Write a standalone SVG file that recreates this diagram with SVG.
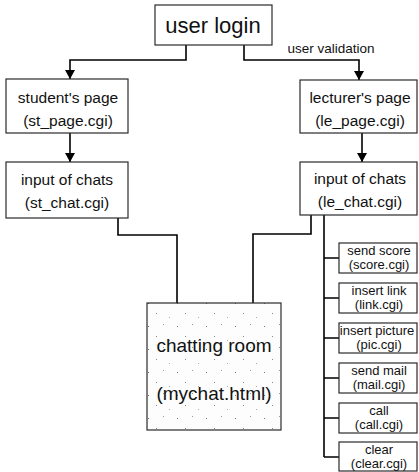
<svg xmlns="http://www.w3.org/2000/svg" width="419" height="472" viewBox="0 0 419 472">
<style>
.box{fill:#fff;stroke:#2a2a2a;stroke-width:1.2}
.t{font-family:"Liberation Sans",Arial,sans-serif;fill:#111;text-anchor:middle}
.m{font-size:15.5px}
.s{font-size:13px}
.c{fill:none;stroke:#000;stroke-width:1.6}
</style>
<defs>
<marker id="ah" markerWidth="10" markerHeight="10" refX="9" refY="5" orient="auto" markerUnits="userSpaceOnUse">
<path d="M0,0 L9,5 L0,10 Z" fill="#000"/>
</marker>
<pattern id="speck" width="29" height="23" patternUnits="userSpaceOnUse">
<rect width="29" height="23" fill="#fdfdfd"/>
<rect x="3" y="4" width="1" height="1" fill="#777"/>
<rect x="18" y="2" width="1" height="1" fill="#999"/>
<rect x="11" y="14" width="1" height="1" fill="#888"/>
<rect x="24" y="18" width="1" height="1" fill="#aaa"/>
</pattern>
</defs>
<g id="connectors">
<path class="c" d="M186,45 V60 H70 V79" marker-end="url(#ah)"/>
<path class="c" d="M244,45 V60 H359 V80" marker-end="url(#ah)"/>
<path class="c" d="M70,133 V162" marker-end="url(#ah)"/>
<path class="c" d="M362,133 V162" marker-end="url(#ah)"/>
<path class="c" d="M118,218 V235 H177 V303"/>
<path class="c" d="M311,215 V234 H253 V303"/>
<path class="c" d="M324,215 V457"/>
<path class="c" d="M324,258 H339 M324,298 H339 M324,338 H339 M324,378 H339 M324,418 H339 M324,457 H339"/>
</g>
<g id="user-login">
<rect class="box" x="155" y="5" width="117" height="40"/>
<text class="t" x="213" y="33" font-size="22">user login</text>
</g>
<text class="t" x="331" y="53" font-size="13.5">user validation</text>
<g id="student-page">
<rect class="box" x="6" y="79" width="122" height="54"/>
<text class="t m" x="68" y="103">student's page</text>
<text class="t m" x="68" y="126">(st_page.cgi)</text>
</g>
<g id="st-chat">
<rect class="box" x="6" y="162" width="122" height="56"/>
<text class="t m" x="67" y="185">input of chats</text>
<text class="t m" x="67" y="208">(st_chat.cgi)</text>
</g>
<g id="lecturer-page">
<rect class="box" x="300" y="80" width="117" height="53"/>
<text class="t m" x="360" y="103">lecturer's page</text>
<text class="t m" x="360" y="126">(le_page.cgi)</text>
</g>
<g id="le-chat">
<rect class="box" x="300" y="162" width="117" height="53"/>
<text class="t m" x="360" y="184">input of chats</text>
<text class="t m" x="360" y="207">(le_chat.cgi)</text>
</g>
<g id="chatting-room">
<rect x="147" y="303" width="134" height="127" fill="url(#speck)" stroke="#2a2a2a" stroke-width="1.2"/>
<text class="t" x="214" y="352" font-size="19">chatting room</text>
<text class="t" x="214" y="400" font-size="19">(mychat.html)</text>
</g>
<g id="score">
<rect class="box" x="339" y="243" width="78" height="30"/>
<text class="t s" x="379" y="255">send score</text>
<text class="t s" x="379" y="269">(score.cgi)</text>
</g>
<g id="link">
<rect class="box" x="339" y="283" width="78" height="30"/>
<text class="t s" x="379" y="295">insert link</text>
<text class="t s" x="379" y="309">(link.cgi)</text>
</g>
<g id="pic">
<rect class="box" x="339" y="323" width="78" height="30"/>
<text class="t s" x="377" y="335">insert picture</text>
<text class="t s" x="379" y="349">(pic.cgi)</text>
</g>
<g id="mail">
<rect class="box" x="339" y="363" width="78" height="30"/>
<text class="t s" x="379" y="375">send mail</text>
<text class="t s" x="379" y="389">(mail.cgi)</text>
</g>
<g id="call">
<rect class="box" x="339" y="403" width="78" height="30"/>
<text class="t s" x="379" y="415">call</text>
<text class="t s" x="379" y="429">(call.cgi)</text>
</g>
<g id="clear">
<rect class="box" x="339" y="442" width="78" height="29"/>
<text class="t s" x="379" y="454">clear</text>
<text class="t s" x="379" y="468">(clear.cgi)</text>
</g>
</svg>
